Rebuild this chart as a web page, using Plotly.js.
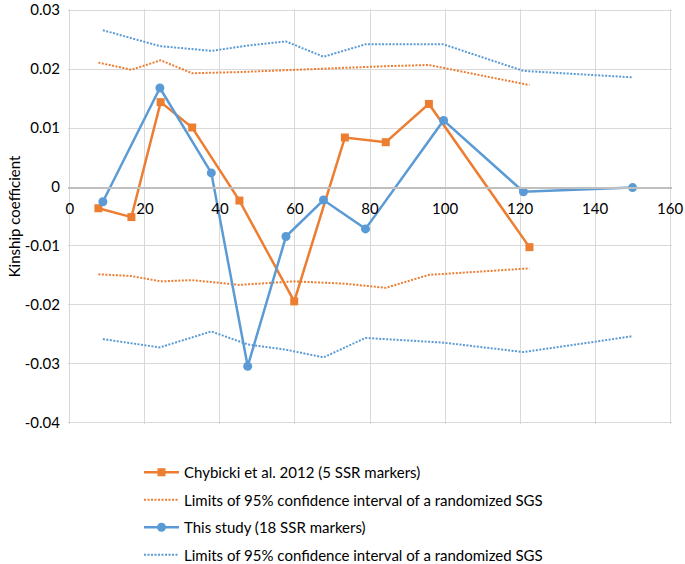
<!DOCTYPE html>
<html>
<head>
<meta charset="utf-8">
<script src="https://cdn.plot.ly/plotly-3.0.1.min.js"></script>
<style>html,body{margin:0;padding:0;background:#fff;}#chart{width:685px;height:564px;}</style>
</head>
<body>
<div id="chart"></div>
<script>
// Chybicki et al. 2012 (5 SSR markers)
const chybickiDist = [7.6, 16.4, 24.2, 32.6, 45.2, 59.8, 73.3, 84.2, 95.7, 122.5];
const chybickiKin = [-0.0036, -0.0051, 0.0144, 0.0101, -0.0023, -0.0194, 0.0084, 0.0076, 0.0141, -0.0102];
const chybickiUpper = [0.0211, 0.0199, 0.0215, 0.0193, 0.0195, 0.0199, 0.0203, 0.0205, 0.0207, 0.0173];
const chybickiLower = [-0.0148, -0.0151, -0.0160, -0.0158, -0.0166, -0.0160, -0.0164, -0.0171, -0.0149, -0.0138];

// This study (18 SSR markers)
const studyDist = [8.8, 24.0, 37.7, 47.4, 57.6, 67.6, 78.8, 99.6, 120.9, 150.0];
const studyKin = [-0.0025, 0.0168, 0.0024, -0.0304, -0.0084, -0.0022, -0.0071, 0.0113, -0.0008, -0.0001];
const studyUpper = [0.0266, 0.0239, 0.0231, 0.0240, 0.0247, 0.0221, 0.0242, 0.0242, 0.0197, 0.0186];
const studyLower = [-0.0258, -0.0272, -0.0245, -0.0267, -0.0276, -0.0289, -0.0256, -0.0264, -0.0280, -0.0253];

const xTicks = [0, 20, 40, 60, 80, 100, 120, 140, 160];
const yTicks = [-0.04, -0.03, -0.02, -0.01, 0, 0.01, 0.02, 0.03];
const yTickText = ['-0.04', '-0.03', '-0.02', '-0.01', '0', '0.01', '0.02', '0.03'];

const names = [
  'Chybicki et al. 2012 (5 SSR markers)',
  'Limits of 95% confidence interval of a randomized SGS',
  'This study (18 SSR markers)',
  'Limits of 95% confidence interval of a randomized SGS'
];

const ORANGE = '#ED7D31';
const BLUE = '#5B9BD5';
const FONT = 'Lato, "Liberation Sans", sans-serif';
const DOTS = '2px,1.5px';

const traces = [
  {x: chybickiDist, y: chybickiKin, name: names[0], legendgroup: 'a', mode: 'lines+markers',
   line: {color: ORANGE, width: 2.5}, marker: {symbol: 'square', size: 8, color: ORANGE}},
  {x: chybickiDist, y: chybickiUpper, name: names[1], legendgroup: 'b', mode: 'lines',
   line: {color: ORANGE, width: 2, dash: DOTS}},
  {x: chybickiDist, y: chybickiLower, name: names[1], legendgroup: 'b', showlegend: false, mode: 'lines',
   line: {color: ORANGE, width: 2, dash: DOTS}},
  {x: studyDist, y: studyKin, name: names[2], legendgroup: 'c', mode: 'lines+markers',
   line: {color: BLUE, width: 2.5}, marker: {symbol: 'circle', size: 9, color: BLUE}},
  {x: studyDist, y: studyUpper, name: names[3], legendgroup: 'd', mode: 'lines',
   line: {color: BLUE, width: 2, dash: DOTS}},
  {x: studyDist, y: studyLower, name: names[3], legendgroup: 'd', showlegend: false, mode: 'lines',
   line: {color: BLUE, width: 2, dash: DOTS}}
];

// ranges padded slightly so the edge grid lines (0, 160, -0.04, 0.03) are drawn
const xRange = [-0.5, 160.5];
const yRange = [-0.0402, 0.0302];
const W = 685, H = 564;
const M = {l: 68, r: 13, t: 9, b: 140};
const PW = W - M.l - M.r;
const cy = px => 1 - px / H;              // pixel row -> container fraction
const fx = px => (px - M.l) / PW;         // pixel column -> paper fraction

const layout = {
  width: W, height: H,
  margin: Object.assign({pad: 0}, M),
  paper_bgcolor: '#fff', plot_bgcolor: '#fff',
  font: {family: FONT, size: 14, color: '#000'},
  showlegend: true,
  xaxis: {
    range: xRange, tickvals: xTicks, ticktext: xTicks.map(String),
    showgrid: true, gridcolor: '#d9d9d9', gridwidth: 1,
    zeroline: false, showline: true, linecolor: '#bfbfbf', linewidth: 1.5,
    anchor: 'free', position: (0 - yRange[0]) / (yRange[1] - yRange[0]),
    ticks: 'outside', ticklen: 7, tickcolor: 'rgba(0,0,0,0)',
    tickfont: {family: FONT, size: 15, color: '#000'}, fixedrange: true
  },
  yaxis: {
    range: yRange, tickvals: yTicks, ticktext: yTickText,
    showgrid: true, gridcolor: '#d9d9d9', gridwidth: 1,
    zeroline: false, showline: false,
    ticks: 'outside', ticklen: 4, tickcolor: 'rgba(0,0,0,0)',
    ticklabeloverflow: 'allow',
    tickfont: {family: FONT, size: 15, color: '#000'},
    title: {text: 'Kinship coefficient', font: {family: FONT, size: 15, color: '#000'}},
    fixedrange: true
  },
  legend: {
    xref: 'paper', yref: 'container',
    x: fx(139), y: cy(456), xanchor: 'left', yanchor: 'top',
    orientation: 'v', traceorder: 'grouped', tracegroupgap: 5, itemwidth: 35,
    font: {family: FONT, size: 15, color: '#000'}, bgcolor: 'rgba(0,0,0,0)', borderwidth: 0
  },
  annotations: [{
    text: 'Distance between trees [m]', xref: 'paper', yref: 'container',
    x: 0.5, y: cy(434), xanchor: 'center', yanchor: 'middle', showarrow: false,
    font: {family: FONT, size: 15, color: '#000'}
  }]
};

Plotly.newPlot('chart', traces, layout, {displayModeBar: false, staticPlot: true});
</script>
</body>
</html>
